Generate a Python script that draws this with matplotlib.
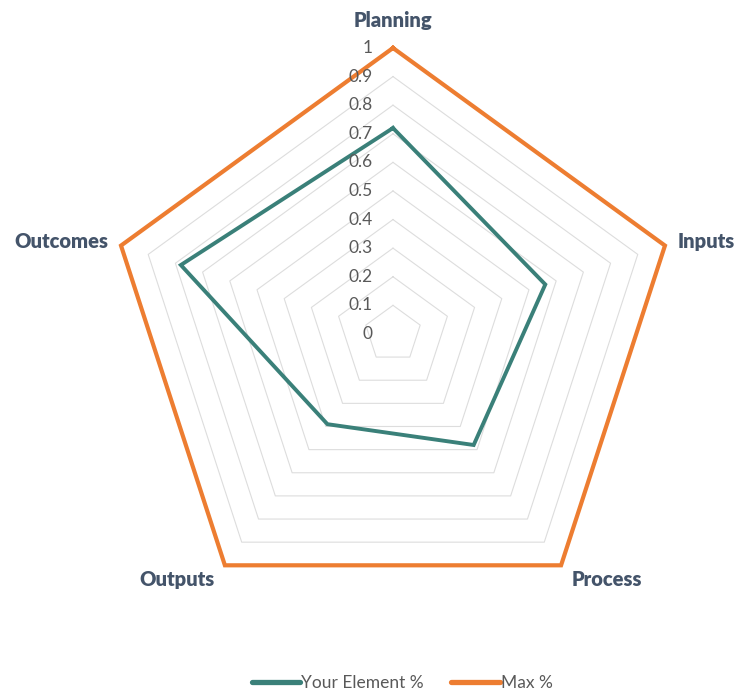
import numpy as np
import matplotlib.pyplot as plt
from matplotlib.transforms import offset_copy

plt.rcParams['font.family'] = ['Lato', 'DejaVu Sans']

# 데이터
categories = ['Planning', 'Inputs', 'Process', 'Outputs', 'Outcomes']
your_element = [0.72, 0.56, 0.48, 0.39, 0.78]
max_pct = [1, 1, 1, 1, 1]
r_ticks = [0, 0.1, 0.2, 0.3, 0.4, 0.5, 0.6, 0.7, 0.8, 0.9, 1]
r_tick_labels = ['0', '0.1', '0.2', '0.3', '0.4', '0.5', '0.6', '0.7', '0.8', '0.9', '1']

teal = '#3A8079'
orange = '#ED7D31'
grid_col = '#DDDDDD'

n = len(categories)
theta = np.linspace(0, 2 * np.pi, n, endpoint=False)
theta_c = np.append(theta, theta[0])

fig = plt.figure(figsize=(7.38, 6.95), dpi=100)
ax = fig.add_axes([0.145, 0.108, 0.775, 0.823], projection='polar')
ax.set_theta_offset(np.pi / 2)
ax.set_theta_direction(-1)
ax.set_ylim(0, 1)
ax.grid(False)
ax.spines['polar'].set_visible(False)
ax.set_xticks([])
ax.set_yticks([])

# 오각형 격자
for r in r_ticks[1:]:
    ax.plot(theta_c, [r] * (n + 1), color=grid_col, lw=0.8, zorder=1)

# 시리즈
ax.plot(theta_c, your_element + your_element[:1], color=teal, lw=2.8,
        label='Your Element %', zorder=3, solid_joinstyle='miter')
ax.plot(theta_c, max_pct + max_pct[:1], color=orange, lw=3.0,
        label='Max %', zorder=3, solid_joinstyle='miter', clip_on=False)

# 눈금 라벨
trans = offset_copy(ax.transData, fig=fig, x=-20, y=0, units='dots')
for r, lab in zip(r_ticks, r_tick_labels):
    ax.text(0, r, lab, transform=trans, ha='right', va='center',
            fontsize=12.5, color='#595959')

# 카테고리 라벨
lab_style = dict(fontsize=14.5, fontweight='heavy', color='#44546A')
ax.text(theta[0], 1.095, categories[0], ha='center', va='center', **lab_style)
ax.text(theta[1], 1.045, categories[1], ha='left', va='center', **lab_style)
ax.text(theta[2], 1.06, categories[2], ha='left', va='center', **lab_style)
ax.text(theta[3], 1.06, categories[3], ha='right', va='center', **lab_style)
ax.text(theta[4], 1.045, categories[4], ha='right', va='center', **lab_style)

leg = fig.legend(loc='lower center', ncol=2, frameon=False, fontsize=12.5,
                 bbox_to_anchor=(0.545, -0.017), handlelength=2.8,
                 handletextpad=0.05, columnspacing=1.6)
for t in leg.get_texts():
    t.set_color('#595959')
for h in leg.get_lines():
    h.set_linewidth(3.8)
    h.set_solid_capstyle('round')

fig.savefig('out.png', dpi=100, facecolor='white')
